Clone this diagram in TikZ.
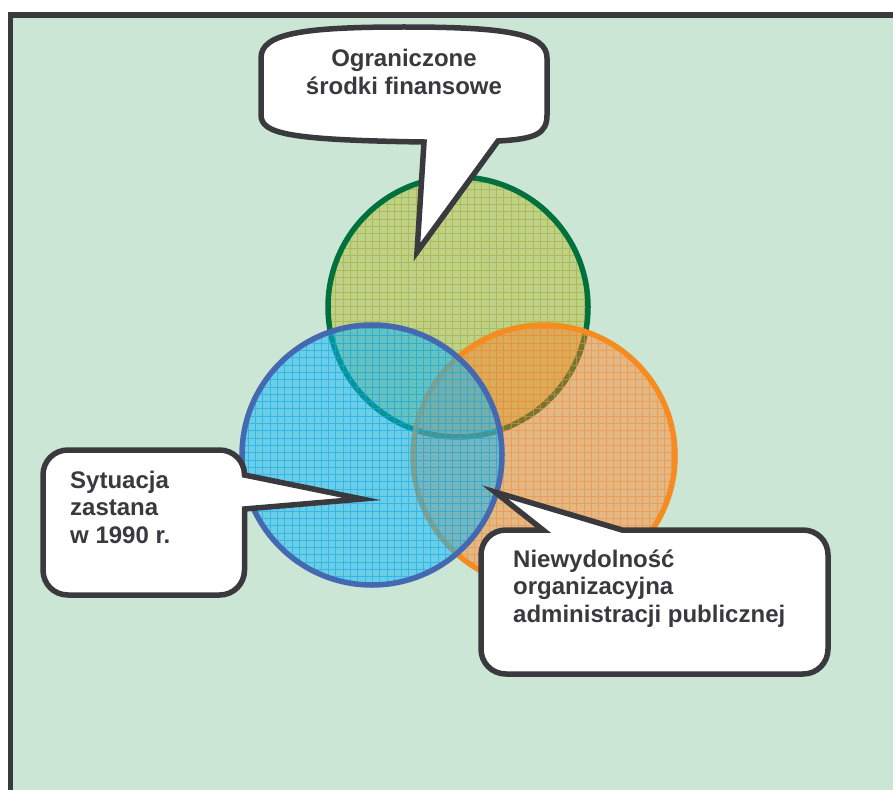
\documentclass[tikz,border=0pt]{standalone}
\usepackage{fontspec}
\setmainfont{Liberation Sans}
\definecolor{bgclr}{RGB}{203,230,213}
\definecolor{frameclr}{RGB}{58,58,62}
\definecolor{textclr}{RGB}{58,58,62}
\definecolor{gfill}{RGB}{183,194,85}
\definecolor{ggrid}{RGB}{160,176,50}
\definecolor{gline}{RGB}{0,112,60}
\definecolor{ofill}{RGB}{255,128,35}
\definecolor{ogrid}{RGB}{245,140,60}
\definecolor{oline}{RGB}{246,139,31}
\definecolor{bfill}{RGB}{15,182,249}
\definecolor{bgrid}{RGB}{10,171,235}
\definecolor{bline}{RGB}{68,105,176}
\begin{document}
\begin{tikzpicture}[x=1pt,y=-1pt,
  callout/.style={draw=frameclr, line width=5.5pt, fill=white, line join=miter, miter limit=20},
  label/.style={inner sep=0pt, text=textclr, font=\fontsize{24}{27.5}\selectfont\bfseries},
  ring/.style={line width=5.5pt},
  gridline/.style={line width=0.75pt, opacity=0.6},
]
\useasboundingbox (0,0) rectangle (893,789);
\clip (0,0) rectangle (893,789);
\fill[white] (0,0) rectangle (893,789);

% panel with its frame (open to the right and bottom)
\draw[fill=bgclr, draw=frameclr, line width=5.5pt] (10.5,15) rectangle (910,810);

% centres of the three rings
\coordinate (cg) at (458,307);
\coordinate (co) at (544,456);
\coordinate (cb) at (372,455);

% green ring
\fill[gfill, fill opacity=0.6] (cg) circle[radius=130pt];
\begin{scope}
  \clip (cg) circle[radius=130pt];
  \draw[ggrid, gridline] \foreach \i in {44,...,84} {(7.3*\i,170) -- (7.3*\i,450)}
                         \foreach \i in {23,...,62} {(320,7.3*\i) -- (600,7.3*\i)};
\end{scope}
\draw[gline, ring] (cg) circle[radius=130pt];

% orange ring
\fill[ofill, fill opacity=0.45] (co) circle[radius=131pt];
\begin{scope}
  \clip (co) circle[radius=131pt];
  \draw[ogrid, gridline] \foreach \i in {55,...,95} {(7.3*\i,320) -- (7.3*\i,600)}
                         \foreach \i in {43,...,83} {(410,7.3*\i) -- (680,7.3*\i)};
\end{scope}
\draw[oline, ring] (co) circle[radius=131pt];

% blue ring
\fill[bfill, fill opacity=0.5] (cb) circle[radius=130pt];
\begin{scope}
  \clip (cb) circle[radius=130pt];
  \draw[bgrid, gridline] \foreach \i in {32,...,70} {(7.3*\i,320) -- (7.3*\i,590)}
                         \foreach \i in {43,...,82} {(235,7.3*\i) -- (510,7.3*\i)};
\end{scope}
\draw[bline, ring] (cb) circle[radius=130pt];

% callout: limited funds
\coordinate (tipA) at (417,252);
\draw[callout] (tipA) -- (498,141)
  .. controls (535,139) and (547,134) .. (547,115) -- (547,58)
  .. controls (547,34) and (508,27) .. (404,27)
  .. controls (300,27) and (261,34) .. (261,58) -- (261,115)
  .. controls (261,134) and (290,140) .. (424,142) -- cycle;
\node[label, anchor=base] (finanse) at (404,67)
  {\begin{tabular}[t]{@{}c@{}}Ograniczone\\środki finansowe\end{tabular}};

% callout: situation in 1990
\coordinate (tipB) at (362,499);
\draw[callout] (tipB) -- (244.5,509) -- (244.5,570)
  .. controls (244.5,584) and (233.5,595) .. (219.5,595) -- (68,595)
  .. controls (54,595) and (43,584) .. (43,570) -- (43,475)
  .. controls (43,461) and (54,450) .. (68,450) -- (219.5,450)
  .. controls (233.5,450) and (244.5,461) .. (244.5,475) -- cycle;
\node[label, anchor=base west] (sytuacja) at (70,488)
  {\begin{tabular}[t]{@{}l@{}}Sytuacja\\zastana\\w 1990 r.\end{tabular}};

% callout: organisational inefficiency
\coordinate (tipC) at (495,492);
\draw[callout] (tipC) -- (622,530) -- (803,530)
  .. controls (817,530) and (828,541) .. (828,555) -- (828,649)
  .. controls (828,663) and (817,674) .. (803,674) -- (506,674)
  .. controls (492,674) and (481,663) .. (481,649) -- (481,555)
  .. controls (481,541) and (492,530) .. (506,530) -- (543,530) -- cycle;
\node[label, anchor=base west] (niewydolnosc) at (513,567)
  {\begin{tabular}[t]{@{}l@{}}Niewydolność\\organizacyjna\\administracji publicznej\end{tabular}};
\end{tikzpicture}
\end{document}
